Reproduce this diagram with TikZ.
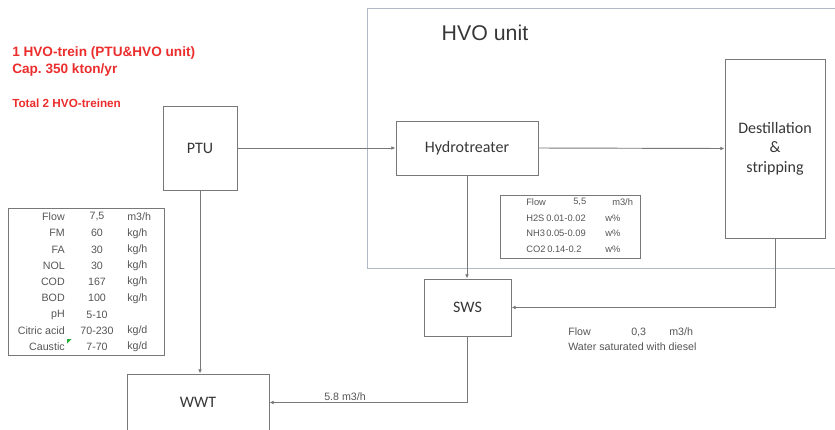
\documentclass[tikz,border=0pt]{standalone}
\usepackage{fontspec}
\setmainfont{Liberation Sans}
\newfontfamily\boxfont{Carlito}
\usetikzlibrary{positioning, calc, arrows.meta}
\definecolor{boxgray}{RGB}{120,120,120}
\definecolor{framegray}{RGB}{175,186,198}
\definecolor{notered}{RGB}{235,45,45}
\definecolor{inkdark}{RGB}{55,55,55}
\definecolor{tabink}{RGB}{85,85,85}
\definecolor{excelgreen}{RGB}{40,170,60}
\tikzset{
  unitbox/.style={draw=boxgray, line width=0.7pt, fill=white, font=\boxfont\fontsize{12}{14.6}\selectfont,
    text=inkdark, align=center, inner sep=0pt},
  flow/.style={draw=boxgray, line width=0.7pt, -{Latex[length=3.2pt, width=2.8pt]}},
  tabbox/.style={draw=boxgray, line width=0.6pt},
  tablbl/.style={font=\fontsize{8}{9.5}\selectfont, text=tabink, inner sep=0pt},
  smalllbl/.style={tablbl, font=\fontsize{7}{8}\selectfont, anchor=west},
  redlbl/.style={font=\bfseries\fontsize{10.2}{12}\selectfont, text=notered, anchor=west, inner sep=0pt},
}

\begin{document}
\begin{tikzpicture}[x=0.75pt, y=-0.75pt]
\useasboundingbox (0,0) rectangle (835,429);

% ============================================================ notes
\node[redlbl] (n1) at (12, 53) {1 HVO-trein (PTU\&HVO unit)};
\node[redlbl] (n2) at (12, 70) {Cap.\ 350 kton/yr};
\node[redlbl, font=\bfseries\fontsize{8.8}{10}\selectfont] (n3) at (12, 103) {Total 2 HVO-treinen};

% ============================================================ HVO unit frame
\draw[framegray, line width=0.6pt] (835, 8) -- (367, 8) -- (367, 268) -- (835, 268);
\node[font=\fontsize{16}{18}\selectfont, text=inkdark, anchor=west] (hvo) at (437, 33) {HVO unit};

% ============================================================ units
\node[unitbox, minimum width=55.5pt, minimum height=63pt]     (ptu)   at (200, 148)   {PTU};
\node[unitbox, minimum width=106.5pt, minimum height=40.5pt]  (hydro) at (467, 148)   {Hydrotreater};
\node[unitbox, minimum width=75pt, minimum height=134.25pt]   (dest)  at (775, 148.5) {Destillation\\\&\\stripping};
\node[unitbox, minimum width=65.25pt, minimum height=42.75pt] (sws)   at (467.5, 307.5) {SWS};
\node[unitbox, minimum width=106.5pt, minimum height=42.75pt] (wwt)   at (198, 402.5) {WWT};

% ============================================================ connectors
\draw[flow] (ptu.east) -- (hydro.west);
\draw[flow] (hydro.east) -- (dest.west);
\draw[flow] (hydro.south) -- (hydro.south |- sws.north);
\draw[flow] (dest.south) |- (sws.east);
\draw[flow] (sws.south) |- (wwt.east);
\draw[flow] (ptu.south) -- (ptu.south |- wwt.north);

\node[tablbl, anchor=west] (q1) at (324, 397) {5.8 m3/h};

% ============================================================ table: PTU effluent
\draw[tabbox] (8, 208) rectangle (164, 355);
\node[tablbl, anchor=east] (r1a) at (65, 217)    {Flow};
\node[tablbl]              (r1b) at (97, 217)    {7,5};
\node[tablbl, anchor=west] (r1c) at (127, 217)   {m3/h};
\node[tablbl, anchor=east] (r2a) at (65, 233.3)  {FM};
\node[tablbl]              (r2b) at (97, 233.3)  {60};
\node[tablbl, anchor=west] (r2c) at (127, 233.3) {kg/h};
\node[tablbl, anchor=east] (r3a) at (65, 249.5)  {FA};
\node[tablbl]              (r3b) at (97, 249.5)  {30};
\node[tablbl, anchor=west] (r3c) at (127, 249.5) {kg/h};
\node[tablbl, anchor=east] (r4a) at (65, 265.8)  {NOL};
\node[tablbl]              (r4b) at (97, 265.8)  {30};
\node[tablbl, anchor=west] (r4c) at (127, 265.8) {kg/h};
\node[tablbl, anchor=east] (r5a) at (65, 282)    {COD};
\node[tablbl]              (r5b) at (97, 282)    {167};
\node[tablbl, anchor=west] (r5c) at (127, 282)   {kg/h};
\node[tablbl, anchor=east] (r6a) at (65, 298.3)  {BOD};
\node[tablbl]              (r6b) at (97, 298.3)  {100};
\node[tablbl, anchor=west] (r6c) at (127, 298.3) {kg/h};
\node[tablbl, anchor=east] (r7a) at (65, 314.5)  {pH};
\node[tablbl]              (r7b) at (97, 314.5)  {5-10};
\node[tablbl, anchor=east] (r8a) at (65, 330.8)  {Citric acid};
\node[tablbl]              (r8b) at (97, 330.8)  {70-230};
\node[tablbl, anchor=west] (r8c) at (127, 330.8) {kg/d};
\node[tablbl, anchor=east] (r9a) at (65, 347)    {Caustic};
\node[tablbl]              (r9b) at (97, 347)    {7-70};
\node[tablbl, anchor=west] (r9c) at (127, 347)   {kg/d};
\fill[excelgreen] (67, 339) -- (71.5, 339) -- (67, 343.5) -- cycle;

% ============================================================ table: hydrotreater off-gas
\draw[tabbox] (500, 195) rectangle (640, 258);
\node[smalllbl] (s1a) at (526, 202) {Flow};
\node[smalllbl] (s1b) at (573, 202) {5,5};
\node[smalllbl] (s1c) at (612, 202) {m3/h};
\node[smalllbl] (s2a) at (526, 218) {H2S};
\node[smalllbl] (s2b) at (546, 218) {0.01-0.02};
\node[smalllbl] (s2c) at (605, 218) {w\%};
\node[smalllbl] (s3a) at (526, 233.5) {NH3};
\node[smalllbl] (s3b) at (546, 233.5) {0.05-0.09};
\node[smalllbl] (s3c) at (605, 233.5) {w\%};
\node[smalllbl] (s4a) at (526, 249.5) {CO2};
\node[smalllbl] (s4b) at (547, 249.5) {0.14-0.2};
\node[smalllbl] (s4c) at (605, 249.5) {w\%};

% ============================================================ destillation water
\node[tablbl, anchor=west] (w1a) at (568, 332) {Flow};
\node[tablbl, anchor=west] (w1b) at (631, 332) {0,3};
\node[tablbl, anchor=west] (w1c) at (669, 332) {m3/h};
\node[tablbl, anchor=west] (w2)  at (568, 347) {Water saturated with diesel};

\end{tikzpicture}
\end{document}
